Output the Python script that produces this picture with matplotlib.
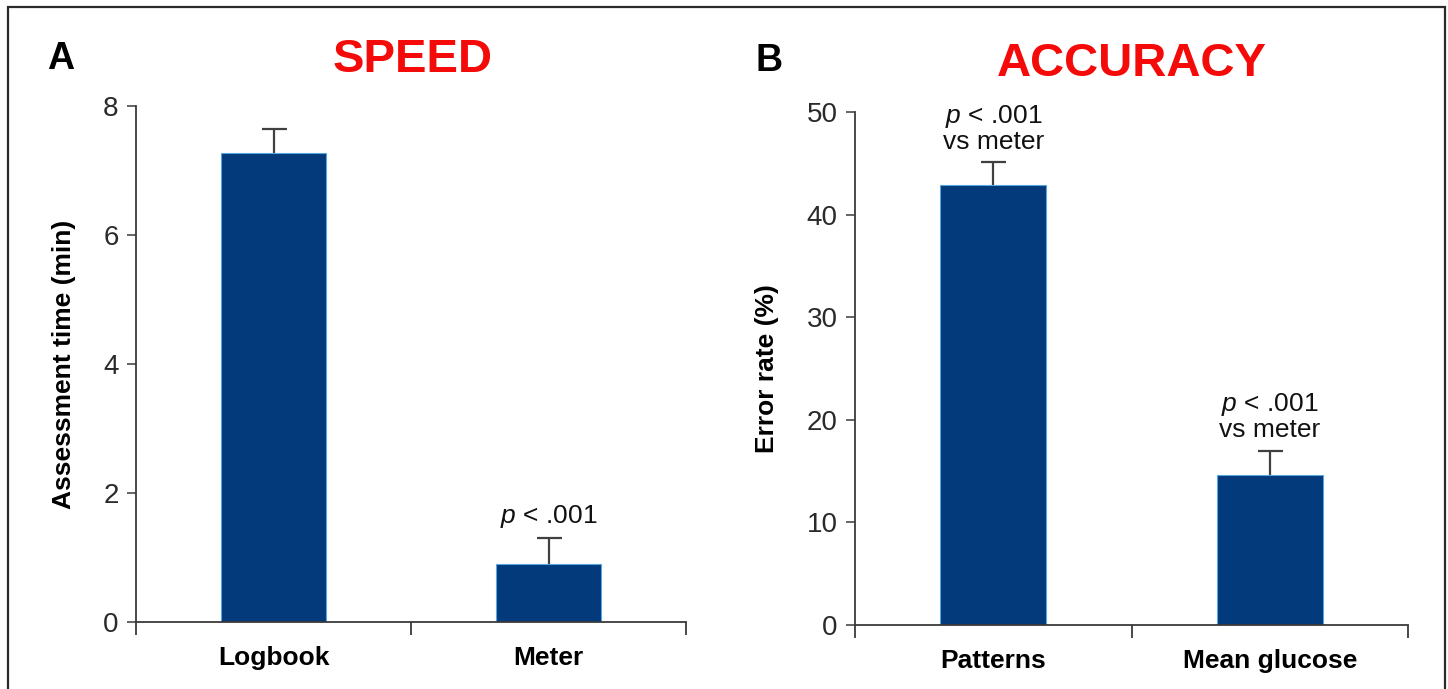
import matplotlib
matplotlib.use("Agg")
import matplotlib.pyplot as plt
from matplotlib.patches import Rectangle

plt.rcParams['font.family'] = ['Liberation Sans', 'DejaVu Sans']
plt.rcParams['mathtext.fontset'] = 'custom'
plt.rcParams['mathtext.rm'] = 'Liberation Sans'
plt.rcParams['mathtext.it'] = 'Liberation Sans:italic'

# ---- data ----
speed_categories = ['Logbook', 'Meter']
speed_means = [7.27, 0.90]
speed_err = [0.38, 0.40]
speed_ticks = [0, 2, 4, 6, 8]

accuracy_categories = ['Patterns', 'Mean glucose']
accuracy_means = [42.9, 14.6]
accuracy_err = [2.2, 2.4]
accuracy_ticks = [0, 10, 20, 30, 40, 50]

speed_notes = ['', '$p$ < .001']
accuracy_notes = ['$p$ < .001\nvs meter', '$p$ < .001\nvs meter']

BAR = '#023a7c'
EDGE = '#5aa6dc'
AXC = '#3a3a3a'
W, H = 1448, 689

fig = plt.figure(figsize=(W / 100, H / 100), dpi=100)
fig.patch.set_facecolor('white')


def px(x, y):
    return x / W, 1 - y / H


def panel(rect, cats, means, errs, ticks, ylabel, notes, ylab_x):
    ax = fig.add_axes(rect)
    x = list(range(len(cats)))
    ax.bar(x, means, width=0.385, color=BAR, edgecolor=EDGE, linewidth=0.8, zorder=2)
    eb = ax.errorbar(x, means, yerr=[[0] * len(errs), errs], fmt='none', ecolor='#404040',
                     elinewidth=1.6, capsize=9, capthick=1.6, zorder=1)
    caps = eb[1]
    if len(caps) == 2:
        caps[0].set_visible(False)
    ax.set_xlim(-0.5, len(cats) - 0.5)
    ax.set_ylim(ticks[0], ticks[-1])
    for s in ['top', 'right']:
        ax.spines[s].set_visible(False)
    for s in ['left', 'bottom']:
        ax.spines[s].set_color(AXC)
        ax.spines[s].set_linewidth(1.3)
    ax.spines['left'].set_bounds(ticks[0], ticks[-1])
    ax.set_yticks(ticks)
    ax.set_yticklabels([str(t) for t in ticks])
    ax.tick_params(axis='y', direction='out', length=6.5, width=1.1, color=AXC,
                   labelsize=20, labelcolor='#2a2a2a', pad=6)
    ax.set_xticks(x)
    ax.set_xticklabels(cats, fontsize=19, fontweight='bold')
    ax.tick_params(axis='x', which='major', length=0, pad=17)
    ax.set_xticks([i - 0.5 for i in range(len(cats) + 1)], minor=True)
    ax.tick_params(axis='x', which='minor', direction='out', length=9, width=1.3, color=AXC)
    ax.text(ylab_x, 0.5, ylabel, transform=ax.transAxes, rotation=90,
            ha='center', va='center', fontsize=19, fontweight='bold')
    for xi, m, e, n in zip(x, means, errs, notes):
        if n:
            ax.annotate(n, xy=(xi, m + e), xytext=(0, 6), textcoords='offset points',
                        ha='center', va='bottom', fontsize=19, linespacing=1.0,
                        color='#111111')
    return ax


axA = panel([136 / W, 67 / H, 550 / W, 516 / H], speed_categories, speed_means,
            speed_err, speed_ticks, 'Assessment time (min)', speed_notes, -0.13)
axB = panel([855 / W, 64 / H, 553 / W, 513 / H], accuracy_categories, accuracy_means,
            accuracy_err, accuracy_ticks, 'Error rate (%)', accuracy_notes, -0.16)

fig.text(*px(61, 59), 'A', ha='center', va='center', fontsize=27, fontweight='bold')
fig.text(*px(769, 61), 'B', ha='center', va='center', fontsize=27, fontweight='bold')
fig.text(*px(413, 60), 'SPEED', ha='center', va='center', fontsize=34,
         fontweight='bold', color='#f50a0a')
fig.text(*px(1132, 64), 'ACCURACY', ha='center', va='center', fontsize=34,
         fontweight='bold', color='#f50a0a')

fig.add_artist(Rectangle((8 / W, -0.05), (1445 - 8) / W, 1.05 - 7 / H,
                         transform=fig.transFigure, fill=False,
                         edgecolor='#2a2a2a', linewidth=1.6, clip_on=False))

fig.savefig('out.png', dpi=100)
